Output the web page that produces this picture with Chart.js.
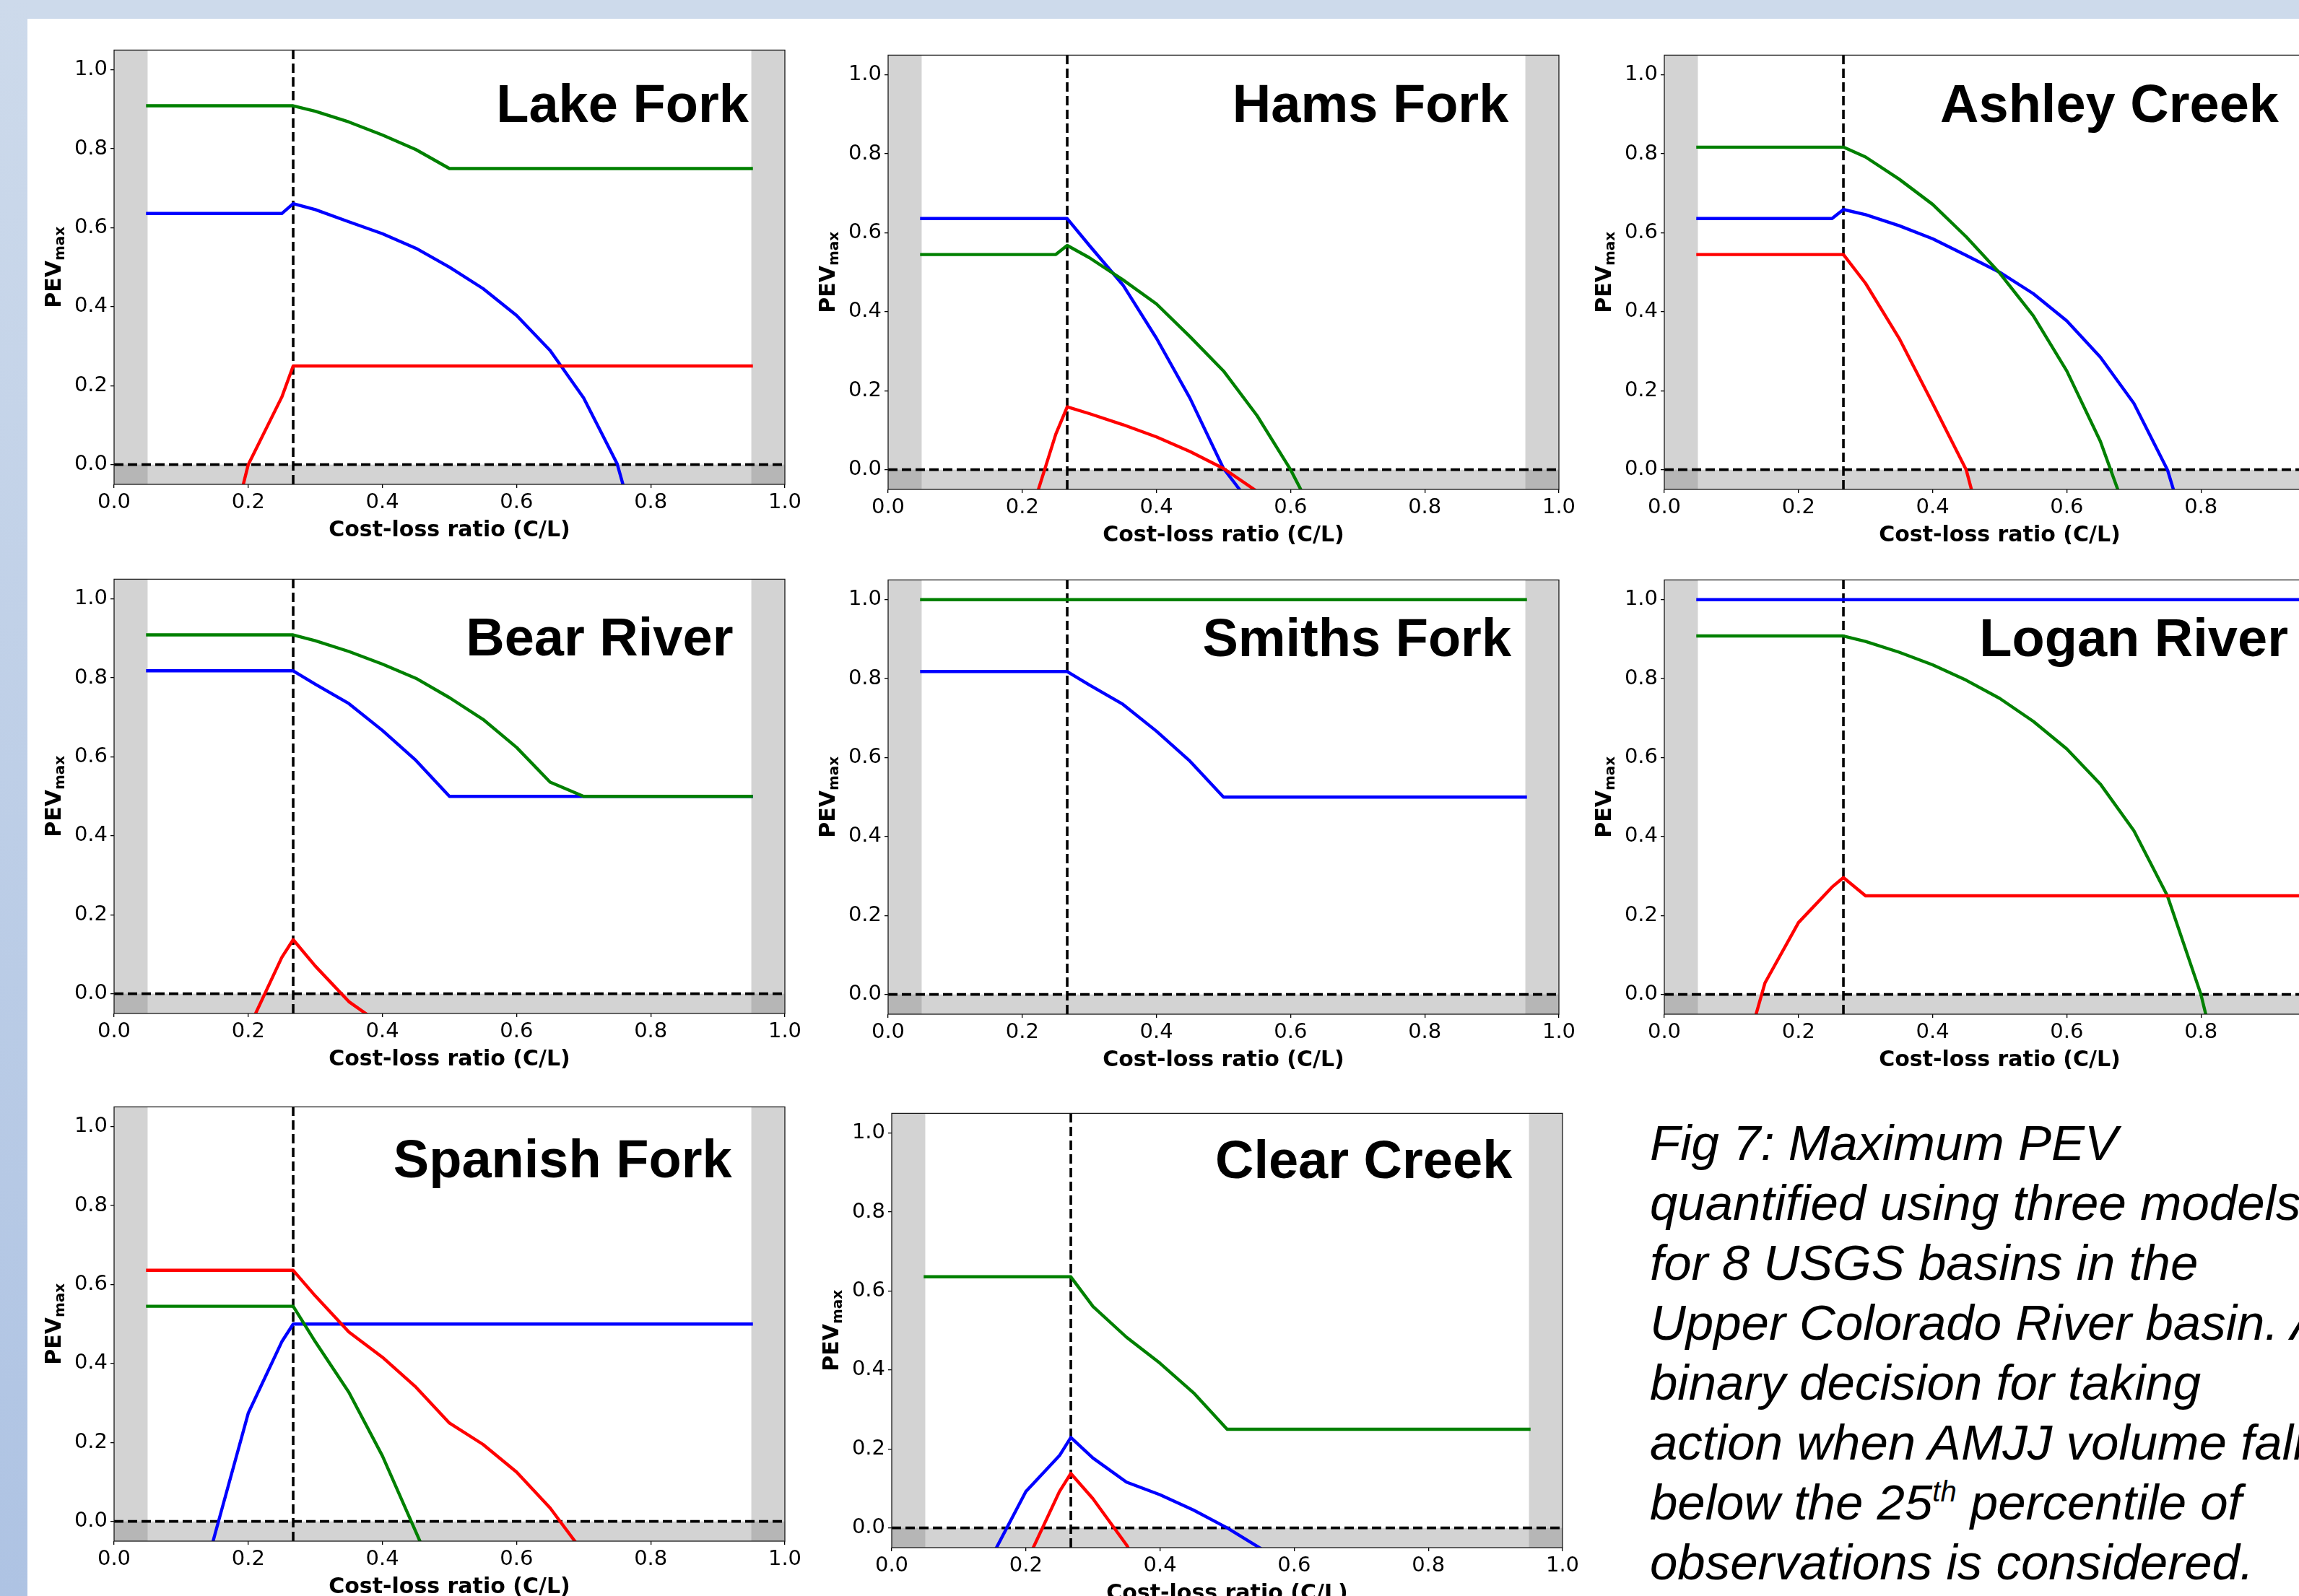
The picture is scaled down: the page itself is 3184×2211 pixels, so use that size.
<!DOCTYPE html>
<html>
<head>
<meta charset="utf-8">
<title>Fig 7: Maximum PEV</title>
<script src="https://cdn.jsdelivr.net/npm/chart.js@4.4.1/dist/chart.umd.min.js"></script>
<style>
  html, body { margin: 0; padding: 0; }
  body { width: 3184px; height: 2211px; overflow: hidden; position: relative; background: #fff; }
  #topband { position: absolute; left: 0; top: 0; width: 3184px; height: 26px; background: #cddaeb; }
  #leftband { position: absolute; left: 0; top: 0; width: 38px; height: 2211px; background: linear-gradient(#cddaeb, #aec3e3); }
  .panel { position: absolute; }
  #caption { position: absolute; left: 2285px; top: 1542px; font: italic 69px/83px "Liberation Sans", Arial, sans-serif; white-space: nowrap; color: #000; }
  #caption sup { font-size: 0.58em; line-height: 0; vertical-align: 0.62em; }
</style>
</head>
<body>
<div id="topband"></div>
<div id="leftband"></div>
<div id="caption">Fig 7: Maximum PEV<br>quantified using three models<br>for 8 USGS basins in the<br>Upper Colorado River basin. A<br>binary decision for taking<br>action when AMJJ volume falls<br>below the 25<sup>th</sup> percentile of<br>observations is considered.</div>

<script>
// cost-loss ratios where PEV was evaluated
const X = [0.05, 0.10, 0.15, 0.20, 0.25, 0.267, 0.30, 0.35, 0.40, 0.45, 0.50, 0.55, 0.60, 0.65, 0.70, 0.75, 0.80, 0.85, 0.90, 0.95];
const CLIMO = 0.267;          // vertical dashed line
const xTicks = [0, 0.2, 0.4, 0.6, 0.8, 1.0];
const yTicks = [0, 0.2, 0.4, 0.6, 0.8, 1.0];
const shadeX = [[0, 0.05], [0.95, 1.0]];
const shadeY = [[-0.05, 0]];

const lakeForkGreen = [0.909, 0.909, 0.909, 0.909, 0.909, 0.909, 0.895, 0.868, 0.835, 0.798, 0.75, 0.75, 0.75, 0.75, 0.75, 0.75, 0.75, 0.75, 0.75, 0.75];
const lakeForkBlue  = [0.636, 0.636, 0.636, 0.636, 0.636, 0.661, 0.646, 0.615, 0.585, 0.548, 0.5, 0.446, 0.378, 0.289, 0.169, 0.002, -0.3, null, null, null];
const lakeForkRed   = [null, null, -0.34, 0.0, 0.171, 0.25, 0.25, 0.25, 0.25, 0.25, 0.25, 0.25, 0.25, 0.25, 0.25, 0.25, 0.25, 0.25, 0.25, 0.25];

const hamsForkGreen = [0.545, 0.545, 0.545, 0.545, 0.545, 0.568, 0.537, 0.481, 0.42, 0.337, 0.25, 0.137, 0.0, -0.165, null, null, null, null, null, null];
const hamsForkBlue  = [0.636, 0.636, 0.636, 0.636, 0.636, 0.636, 0.568, 0.468, 0.333, 0.181, 0.003, -0.108, null, null, null, null, null, null, null, null];
const hamsForkRed   = [null, null, null, -0.18, 0.09, 0.159, 0.142, 0.114, 0.083, 0.046, 0.003, -0.055, null, null, null, null, null, null, null, null];

const ashleyGreen = [0.817, 0.817, 0.817, 0.817, 0.817, 0.817, 0.792, 0.736, 0.672, 0.59, 0.498, 0.39, 0.25, 0.072, -0.163, null, null, null, null, null];
const ashleyBlue  = [0.636, 0.636, 0.636, 0.636, 0.636, 0.659, 0.646, 0.618, 0.585, 0.543, 0.5, 0.446, 0.377, 0.285, 0.168, 0.0, -0.28, null, null, null];
const ashleyRed   = [0.545, 0.545, 0.545, 0.545, 0.545, 0.545, 0.472, 0.333, 0.168, 0.0, -0.32, null, null, null, null, null, null, null, null, null];

const bearGreen = [0.909, 0.909, 0.909, 0.909, 0.909, 0.909, 0.894, 0.867, 0.835, 0.799, 0.75, 0.695, 0.624, 0.536, 0.5, 0.5, 0.5, 0.5, 0.5, 0.5];
const bearBlue  = [0.818, 0.818, 0.818, 0.818, 0.818, 0.818, 0.784, 0.735, 0.667, 0.591, 0.5, 0.5, 0.5, 0.5, 0.5, 0.5, 0.5, 0.5, 0.5, 0.5];
const bearRed   = [null, null, null, -0.09, 0.092, 0.137, 0.07, -0.02, -0.08, null, null, null, null, null, null, null, null, null, null, null];

const smithsGreen = [1.0, 1.0, 1.0, 1.0, 1.0, 1.0, 1.0, 1.0, 1.0, 1.0, 1.0, 1.0, 1.0, 1.0, 1.0, 1.0, 1.0, 1.0, 1.0, 1.0];
const smithsBlue  = [0.818, 0.818, 0.818, 0.818, 0.818, 0.818, 0.784, 0.735, 0.667, 0.591, 0.5, 0.5, 0.5, 0.5, 0.5, 0.5, 0.5, 0.5, 0.5, 0.5];

const loganGreen = [0.908, 0.908, 0.908, 0.908, 0.908, 0.908, 0.894, 0.867, 0.835, 0.796, 0.75, 0.692, 0.622, 0.533, 0.415, 0.25, 0.0, -0.35, null, null];
const loganBlue  = [1.0, 1.0, 1.0, 1.0, 1.0, 1.0, 1.0, 1.0, 1.0, 1.0, 1.0, 1.0, 1.0, 1.0, 1.0, 1.0, 1.0, 1.0, 1.0, 1.0];
const loganRed   = [null, -0.27, 0.029, 0.182, 0.272, 0.296, 0.25, 0.25, 0.25, 0.25, 0.25, 0.25, 0.25, 0.25, 0.25, 0.25, 0.25, 0.25, 0.25, 0.25];

const spanishGreen = [0.545, 0.545, 0.545, 0.545, 0.545, 0.545, 0.455, 0.327, 0.166, -0.027, -0.22, null, null, null, null, null, null, null, null, null];
const spanishBlue  = [null, -0.35, -0.035, 0.274, 0.455, 0.5, 0.5, 0.5, 0.5, 0.5, 0.5, 0.5, 0.5, 0.5, 0.5, 0.5, 0.5, 0.5, 0.5, 0.5];
const spanishRed   = [0.636, 0.636, 0.636, 0.636, 0.636, 0.636, 0.571, 0.48, 0.416, 0.34, 0.249, 0.195, 0.125, 0.034, -0.08, null, null, null, null, null];

const clearGreen = [0.636, 0.636, 0.636, 0.636, 0.636, 0.636, 0.561, 0.483, 0.417, 0.342, 0.25, 0.25, 0.25, 0.25, 0.25, 0.25, 0.25, 0.25, 0.25, 0.25];
const clearBlue  = [null, null, -0.07, 0.092, 0.183, 0.229, 0.177, 0.116, 0.084, 0.045, 0.0, -0.052, null, null, null, null, null, null, null, null];
const clearRed   = [null, null, null, -0.09, 0.092, 0.138, 0.074, -0.043, -0.2, null, null, null, null, null, null, null, null, null, null, null];

const GREEN = '#008000', BLUE = '#0000ff', RED = '#ff0000';
const SHADE = 'rgba(128,128,128,0.35)';

// plot rectangles in page pixels + title anchor (data units)
const panels = [
  { name: 'Lake Fork',    left: 157.8,  top: 58.2,   tx: 0.946, ty: 0.867, lines: [[RED, lakeForkRed], [GREEN, lakeForkGreen], [BLUE, lakeForkBlue]] },
  { name: 'Hams Fork',    left: 1229.8, top: 65.4,   tx: 0.925, ty: 0.880, lines: [[RED, hamsForkRed], [GREEN, hamsForkGreen], [BLUE, hamsForkBlue]] },
  { name: 'Ashley Creek', left: 2305,   top: 65.4,   tx: 0.916, ty: 0.880, lines: [[RED, ashleyRed], [GREEN, ashleyGreen], [BLUE, ashleyBlue]] },
  { name: 'Bear River',   left: 157.8,  top: 791.1,  tx: 0.923, ty: 0.857, lines: [[RED, bearRed], [GREEN, bearGreen], [BLUE, bearBlue]] },
  { name: 'Smiths Fork',  left: 1229.8, top: 791.6,  tx: 0.929, ty: 0.857, lines: [[GREEN, smithsGreen], [BLUE, smithsBlue]] },
  { name: 'Logan River',  left: 2305,   top: 791.6,  tx: 0.930, ty: 0.857, lines: [[RED, loganRed], [GREEN, loganGreen], [BLUE, loganBlue]] },
  { name: 'Spanish Fork', left: 157.8,  top: 1522.2, tx: 0.921, ty: 0.872, lines: [[RED, spanishRed], [GREEN, spanishGreen], [BLUE, spanishBlue]] },
  { name: 'Clear Creek',  left: 1235.4, top: 1530.5, tx: 0.925, ty: 0.887, lines: [[RED, clearRed], [GREEN, clearGreen], [BLUE, clearBlue]] }
];

const PAD_L = 150, PAD_T = 10, PAD_R = 30, PAD_B = 110;
const PLOT_W = 929, PLOT_H = 613;

Chart.defaults.font.family = '"DejaVu Sans", sans-serif';
Chart.defaults.color = '#000';

const panelDecor = {
  id: 'panelDecor',
  beforeDatasetsDraw(chart) {
    const { ctx, chartArea: a, scales: { x, y } } = chart;
    ctx.save();
    ctx.fillStyle = SHADE;
    shadeX.forEach(([x0, x1]) => {
      const p0 = x.getPixelForValue(x0), p1 = x.getPixelForValue(x1);
      ctx.fillRect(p0, a.top, p1 - p0, a.bottom - a.top);
    });
    shadeY.forEach(([y0, y1]) => {
      const q0 = y.getPixelForValue(y0), q1 = y.getPixelForValue(y1);
      ctx.fillRect(a.left, q1, a.right - a.left, q0 - q1);
    });
    ctx.restore();
  },
  afterDatasetsDraw(chart) {
    const { ctx, chartArea: a } = chart;
    ctx.save();
    ctx.strokeStyle = '#1a1a1a';
    ctx.lineWidth = 1.3;
    ctx.strokeRect(a.left, a.top, a.right - a.left, a.bottom - a.top);
    ctx.restore();
  },
  afterDraw(chart, args, opts) {
    const { ctx, chartArea: a, scales: { x, y } } = chart;
    ctx.save();
    // basin name
    ctx.fillStyle = '#000';
    ctx.font = 'bold 74px "Liberation Sans", Arial, sans-serif';
    ctx.textAlign = 'right';
    ctx.textBaseline = 'alphabetic';
    ctx.fillText(opts.title, x.getPixelForValue(opts.tx), y.getPixelForValue(opts.ty));
    // y label: PEV with subscript max
    ctx.translate(a.left - 74.5, (a.top + a.bottom) / 2);
    ctx.rotate(-Math.PI / 2);
    ctx.textAlign = 'left';
    ctx.font = 'bold 30px "DejaVu Sans", sans-serif';
    const w1 = ctx.measureText('PEV').width;
    ctx.font = 'bold 20px "DejaVu Sans", sans-serif';
    const w2 = ctx.measureText('max').width;
    const start = -(w1 + w2) / 2;
    ctx.font = 'bold 30px "DejaVu Sans", sans-serif';
    ctx.fillText('PEV', start, 0);
    ctx.font = 'bold 20px "DejaVu Sans", sans-serif';
    ctx.fillText('max', start + w1, 5);
    ctx.restore();
  }
};

panels.forEach(p => {
  const div = document.createElement('div');
  div.className = 'panel';
  div.style.left = (p.left - PAD_L) + 'px';
  div.style.top = (p.top - PAD_T) + 'px';
  const cv = document.createElement('canvas');
  cv.width = PAD_L + PLOT_W + PAD_R;
  cv.height = PAD_T + PLOT_H + PAD_B;
  div.appendChild(cv);
  document.body.appendChild(div);

  const datasets = p.lines.map(([color, vals]) => ({
    data: X.map((x, i) => ({ x: x, y: vals[i] })),
    borderColor: color,
    borderWidth: 4.4,
    borderCapStyle: 'square',
    borderJoinStyle: 'round',
    pointRadius: 0,
    tension: 0,
    spanGaps: false
  }));
  // dashed reference lines
  datasets.push({
    data: [{ x: CLIMO, y: -0.05 }, { x: CLIMO, y: 1.05 }],
    borderColor: '#000', borderWidth: 3.6, borderDash: [13, 6], pointRadius: 0
  });
  datasets.push({
    data: [{ x: 0, y: 0 }, { x: 1, y: 0 }],
    borderColor: '#000', borderWidth: 3.8, borderDash: [13, 6], pointRadius: 0
  });

  new Chart(cv, {
    type: 'line',
    data: { datasets: datasets },
    options: {
      responsive: false,
      animation: false,
      devicePixelRatio: 1,
      layout: { padding: { left: 0, top: PAD_T, right: PAD_R, bottom: 0 } },
      plugins: {
        legend: { display: false },
        tooltip: { enabled: false },
        panelDecor: { title: p.name, tx: p.tx, ty: p.ty }
      },
      scales: {
        x: {
          type: 'linear', min: 0, max: 1,
          afterBuildTicks: axis => { axis.ticks = xTicks.map(v => ({ value: v })); },
          afterFit: s => { s.height = PAD_B; },
          ticks: { callback: v => v.toFixed(1), font: { size: 29 }, color: '#000', padding: 3, maxRotation: 0, autoSkip: false },
          grid: { drawOnChartArea: false, drawTicks: true, tickLength: 5, color: '#000', lineWidth: 1.3 },
          border: { display: false },
          title: { display: true, text: 'Cost-loss ratio (C/L)', font: { size: 30, weight: 'bold' }, color: '#000', padding: { top: 0, bottom: 28 } }
        },
        y: {
          type: 'linear', min: -0.05, max: 1.05,
          afterBuildTicks: axis => { axis.ticks = yTicks.map(v => ({ value: v })); },
          afterFit: s => { s.width = PAD_L; },
          ticks: { callback: v => v.toFixed(1), font: { size: 29 }, color: '#000', padding: 4, autoSkip: false },
          grid: { drawOnChartArea: false, drawTicks: true, tickLength: 5, color: '#000', lineWidth: 1.3 },
          border: { display: false }
        }
      }
    },
    plugins: [panelDecor]
  });
});
</script>
</body>
</html>
